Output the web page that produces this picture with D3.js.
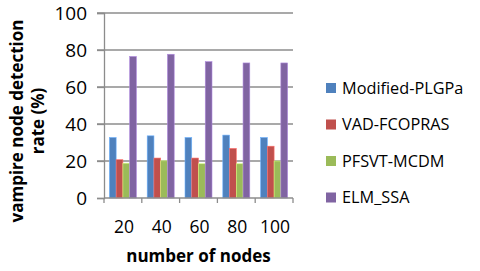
<!DOCTYPE html>
<html>
<head>
<meta charset="utf-8">
<script src="https://cdn.jsdelivr.net/npm/d3@7"></script>
<style>
  body { margin: 0; background: #fff; }
  text { font-family: "Open Sans", "Liberation Sans", sans-serif; fill: #000; }
</style>
</head>
<body>
<div id="chart"></div>
<script>
// chart data
const nodeCounts = ['20', '40', '60', '80', '100'];
const seriesNames = ['Modified-PLGPa', 'VAD-FCOPRAS', 'PFSVT-MCDM', 'ELM_SSA'];
const modifiedPLGPa = [32.7, 33.6, 32.7, 34.0, 32.7];
const vadFCOPRAS = [20.7, 21.6, 21.6, 26.8, 28.0];
const pfsvtMCDM = [18.8, 20.1, 18.5, 18.5, 20.0];
const elmSSA = [76.5, 77.7, 73.7, 73.0, 73.0];
const yTicks = [0, 20, 40, 60, 80, 100];
const colors = ['#4F81BD', '#C0504D', '#9BBB59', '#8064A2'];

const seriesValues = [modifiedPLGPa, vadFCOPRAS, pfsvtMCDM, elmSSA];

const width = 480, height = 271;
const margin = {top: 13, left: 104, right: 187, bottom: 73};
const innerW = width - margin.left - margin.right;
const innerH = height - margin.top - margin.bottom;

const svg = d3.select('#chart').append('svg')
    .attr('width', width)
    .attr('height', height);

const chart = svg.append('g')
    .attr('transform', `translate(${margin.left},${margin.top})`);

const x0 = d3.scaleBand().domain(nodeCounts).range([0, innerW]);
const x1 = d3.scaleBand().domain(seriesNames).range([0, x0.bandwidth()])
    .paddingInner(0).paddingOuter(0.8);
const y = d3.scaleLinear().domain([0, 100]).range([innerH, 0]);

// gridlines, extended left as outward ticks
chart.selectAll('.grid')
    .data(yTicks.filter(d => d > 0))
  .join('line')
    .attr('class', 'grid')
    .attr('x1', -7).attr('x2', innerW)
    .attr('y1', d => y(d)).attr('y2', d => y(d))
    .attr('stroke', '#8c8c8c').attr('stroke-width', 1.3);

// bars
const rows = nodeCounts.map((c, i) => ({cat: c, vals: seriesNames.map((s, j) => ({s, v: seriesValues[j][i], c: colors[j]}))}));
chart.selectAll('.group')
    .data(rows)
  .join('g')
    .attr('class', 'group')
    .attr('transform', d => `translate(${x0(d.cat)},0)`)
  .selectAll('rect')
    .data(d => d.vals)
  .join('rect')
    .attr('x', d => x1(d.s))
    .attr('y', d => y(d.v))
    .attr('width', x1.bandwidth())
    .attr('height', d => innerH - y(d.v))
    .attr('fill', d => d.c)
    .attr('stroke', d => d3.color(d.c).brighter(0.9))
    .attr('stroke-width', 0.6);

// y axis
const yAxis = d3.axisLeft(y).tickValues(yTicks).tickSize(7).tickPadding(10);
const yG = chart.append('g').call(yAxis);
yG.select('.domain').attr('stroke', '#8c8c8c').attr('stroke-width', 1.3);
yG.selectAll('.tick line').attr('stroke', '#8c8c8c').attr('stroke-width', 1.3);
yG.selectAll('.tick text').style('font-size', '19px').attr('fill', '#000');

// x axis: ticks at category boundaries
chart.append('line')
    .attr('x1', 0).attr('x2', innerW)
    .attr('y1', innerH).attr('y2', innerH)
    .attr('stroke', '#8c8c8c').attr('stroke-width', 1.3);
const boundaries = nodeCounts.map(c => x0(c)).concat([innerW]);
chart.selectAll('.xtick')
    .data(boundaries)
  .join('line')
    .attr('class', 'xtick')
    .attr('x1', d => d).attr('x2', d => d)
    .attr('y1', innerH).attr('y2', innerH + 5)
    .attr('stroke', '#8c8c8c').attr('stroke-width', 1.3);
chart.selectAll('.xlabel')
    .data(nodeCounts)
  .join('text')
    .attr('class', 'xlabel')
    .attr('x', d => x0(d) + x0.bandwidth() / 2 + 1)
    .attr('y', innerH + 35)
    .attr('text-anchor', 'middle')
    .style('font-size', '17.5px')
    .text(d => d);

// axis titles
svg.append('text')
    .attr('x', margin.left + innerW / 2)
    .attr('y', 262)
    .attr('text-anchor', 'middle')
    .style('font-size', '17px')
    .style('font-weight', 'bold')
    .text('number of nodes');

const yTitle = svg.append('g')
    .attr('transform', 'translate(0,121) rotate(-90)');
yTitle.append('text')
    .attr('x', 0).attr('y', 23)
    .attr('text-anchor', 'middle')
    .style('font-size', '17px')
    .style('font-weight', 'bold')
    .text('vampire node detection');
yTitle.append('text')
    .attr('x', 0).attr('y', 44)
    .attr('text-anchor', 'middle')
    .style('font-size', '17px')
    .style('font-weight', 'bold')
    .text('rate (%)');

// legend
const legend = svg.append('g').attr('transform', 'translate(326,88)');
const item = legend.selectAll('g')
    .data(seriesNames)
  .join('g')
    .attr('transform', (d, i) => `translate(0,${i * 36.5})`);
item.append('rect')
    .attr('x', 0).attr('y', -5)
    .attr('width', 10).attr('height', 10)
    .attr('fill', (d, i) => colors[i]);
item.append('text')
    .attr('x', 16).attr('y', 0)
    .attr('dy', '0.35em')
    .style('font-size', '16.3px')
    .text(d => d);
</script>
</body>
</html>
